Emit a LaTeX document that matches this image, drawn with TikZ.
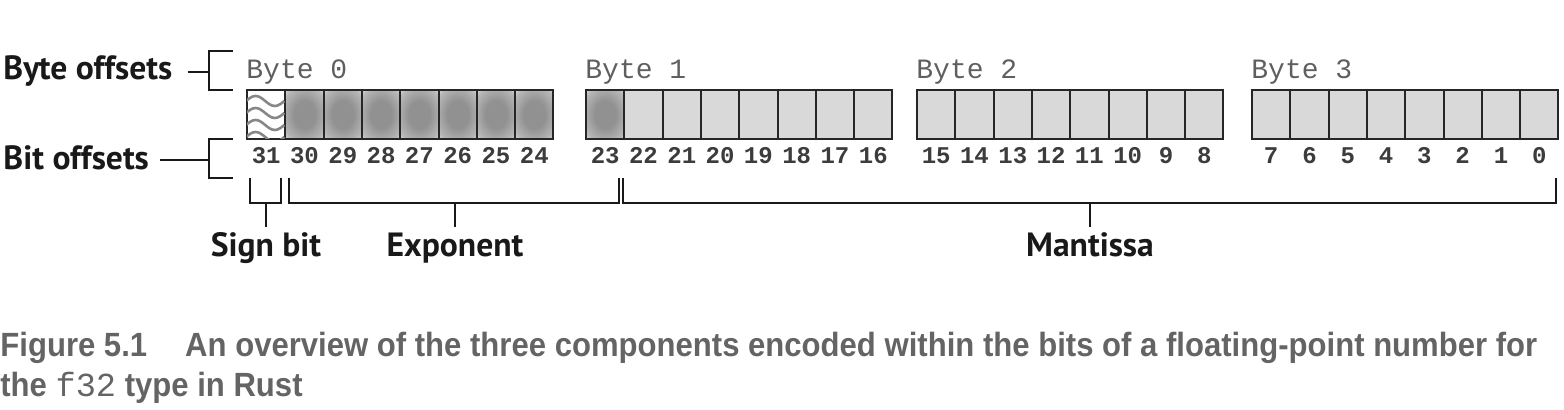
\documentclass[tikz,border=0pt]{standalone}
\usepackage{fontspec}
\setmainfont{Liberation Sans}
\newfontfamily\labelfont{PT Sans}
\newfontfamily\codefont{Liberation Mono}
\newfontfamily\capfont[FakeStretch=0.925]{Liberation Sans}
\usetikzlibrary{positioning,calc}
\definecolor{cellgray}{RGB}{217,217,217}
\definecolor{blobgray}{RGB}{145,145,145}
\definecolor{inkgray}{RGB}{60,60,60}
\definecolor{bytegray}{RGB}{95,95,95}
\definecolor{capgray}{RGB}{100,100,100}
\definecolor{wavegray}{RGB}{135,135,135}
\pgfdeclareradialshading{blob}{\pgfpoint{0bp}{0bp}}{color(0bp)=(blobgray); color(14bp)=(blobgray); color(30bp)=(blobgray!65!white); color(42bp)=(white); color(50bp)=(white)}
\tikzset{
  cell/.style={rectangle, draw=black!85, line width=1pt, fill=cellgray,
               minimum width=19.15pt, minimum height=24.5pt, inner sep=0pt},
  expcell/.style={cell, shading=blob},
  signcell/.style={cell, fill=white},
  bitnum/.style={font=\codefont\bfseries\fontsize{12}{12}\selectfont, text=inkgray, inner sep=0pt, anchor=base},
  bytelabel/.style={font=\codefont\fontsize{14}{14}\selectfont, text=bytegray, inner sep=0pt, anchor=base west},
  part/.style={font=\labelfont\bfseries\fontsize{16.8}{16.8}\selectfont, text=black!90, inner sep=0pt},
  bracket/.style={line width=0.8pt, black!90},
  wave/.style={line width=1.3pt, wavegray},
  caption/.style={font=\capfont\bfseries\fontsize{16.8}{16.8}\selectfont, text=capgray, inner sep=0pt, anchor=base west},
}

\begin{document}
\begin{tikzpicture}[x=0.5pt, y=0.5pt]
\useasboundingbox (0,0) rectangle (1564,410);

% bit cells and bit numbers, one byte at a time
\foreach \b/\x in {0/247, 1/586, 2/917, 3/1252}
  \foreach \i in {0,...,7} {
    \pgfmathtruncatemacro\bit{31-8*\b-\i}
    \ifnum\bit>22 \ifnum\bit<31 \def\sty{expcell}\else\def\sty{signcell}\fi \else\def\sty{cell}\fi
    \node[\sty] (c\bit) at ({\x+38.3*(\i+0.5)}, 295.5) {};
    \node[bitnum] (n\bit) at ({\x+38.3*(\i+0.5)}, 246) {\bit};
  }

% byte labels
\foreach \b/\first in {0/31, 1/23, 2/15, 3/7}
  \node[bytelabel] (byte\b) at ($(c\first.north west)+(0,10)$) {Byte \b};

% wavy sign cell
\begin{scope}
  \clip ([shift={(1,1)}]c31.south west) rectangle ([shift={(-1,-1)}]c31.north east);
  \foreach \dy in {13.5, 1.5, -10.5, -22.5}
    \draw[wave] ($(c31.west)+(0,\dy)$) sin ++(9.6,5) cos ++(9.6,-5) sin ++(9.6,-5) cos ++(9.6,5);
\end{scope}

% left side labels
\node[part, anchor=base west] (byteoff) at (3,330) {Byte offsets};
\node[part, anchor=base west] (bitoff) at (3,240) {Bit offsets};
\coordinate (bb) at (209,338);
\coordinate (tb) at (209,250);
\draw[bracket] (233,359) -| (209,320) -- (233,320);
\draw[bracket] (233,271) -| (209,232) -- (233,232);
\draw[bracket] ($(bb -| byteoff.east)+(15,0)$) -- (bb);
\draw[bracket] ($(tb -| bitoff.east)+(11,0)$) -- (tb);

% component brackets
\draw[bracket] (250,232) |- (281,207) -- (281,232);
\draw[bracket] (289,232) |- (619,207) -- (619,232);
\draw[bracket] (623,232) |- (1556,207) -- (1556,232);
\node[part, anchor=base] (sign) at (266,153) {Sign bit};
\node[part, anchor=base] (expo) at (455,153) {Exponent};
\node[part, anchor=base] (mant) at (1090,153) {Mantissa};
\foreach \p/\sx in {sign/266, expo/455, mant/1090}
  \draw[bracket] (\sx,207) -- ([yshift=3pt]\p.north);

% caption
\node[caption] (cap1) at (0,53.3) {Figure 5.1\hspace{19pt}An overview of the three components encoded within the bits of a floating-point number for};
\node[caption] (cap2) at (0,13.3) {the {\codefont\mdseries f32} type in Rust};
\end{tikzpicture}
\end{document}
